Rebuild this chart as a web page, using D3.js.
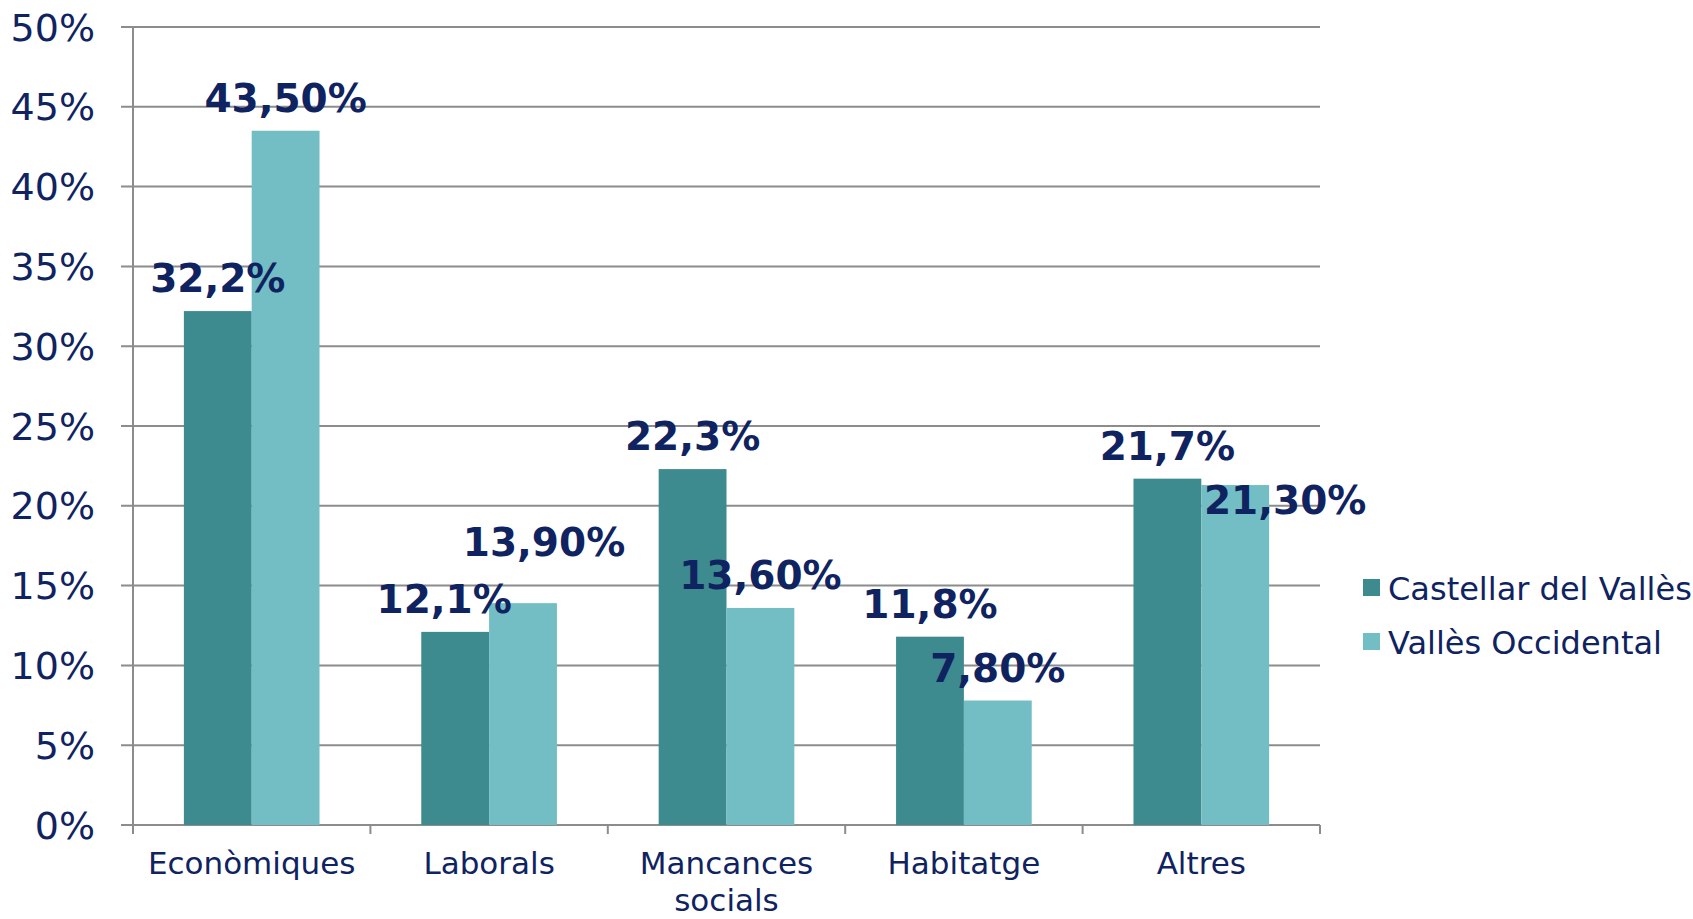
<!DOCTYPE html>
<html>
<head>
<meta charset="utf-8">
<script src="https://cdn.jsdelivr.net/npm/d3@7"></script>
<style>
  body { margin: 0; background: #fff; }
  svg { display: block; font-family: "DejaVu Sans", Verdana, sans-serif; }
</style>
</head>
<body>
<svg id="chart" width="1693" height="919"></svg>
<script>
// chart data
const categories = ["Econòmiques", "Laborals", "Mancances socials", "Habitatge", "Altres"];
const seriesNames = ["Castellar del Vallès", "Vallès Occidental"];
const castellar = [32.2, 12.1, 22.3, 11.8, 21.7];
const valles = [43.5, 13.9, 13.6, 7.8, 21.3];
const yTicks = [0, 5, 10, 15, 20, 25, 30, 35, 40, 45, 50];

// label nudges (the original had a few labels moved by hand)
const labelNudge = [
  [[0, 0], [0, 0]],
  [[-11, 0], [21, -28]],
  [[0, 0], [0, 0]],
  [[0, 0], [0, 0]],
  [[0, 0], [50, 48]]
];

const colors = ["#3d8a8f", "#72bec4"];
const textColor = "#0f2361";
const gridColor = "#8c8c8c";

const svg = d3.select("#chart");
const plotLeft = 133, plotRight = 1320, plotTop = 27, plotBottom = 825;

const x = d3.scaleBand().domain(categories).range([plotLeft, plotRight]);
const bw = x.bandwidth() / 3.5;
const xs = d3.scaleBand().domain(seriesNames).range([0, bw * 2]);
const y = d3.scaleLinear().domain([0, 50]).range([plotBottom, plotTop]);

// gridlines
svg.append("g")
  .selectAll("line")
  .data(yTicks)
  .enter()
  .append("line")
  .attr("x1", plotLeft - 12)
  .attr("x2", plotRight)
  .attr("y1", d => y(d))
  .attr("y2", d => y(d))
  .style("stroke", gridColor)
  .style("stroke-width", 2);

// y axis line
svg.append("line")
  .attr("x1", plotLeft).attr("x2", plotLeft)
  .attr("y1", plotTop).attr("y2", plotBottom)
  .style("stroke", gridColor)
  .style("stroke-width", 2);

// category ticks
const bounds = categories.map(c => x(c)).concat([plotRight]);
svg.append("g")
  .selectAll("line")
  .data(bounds)
  .enter()
  .append("line")
  .attr("x1", d => d).attr("x2", d => d)
  .attr("y1", plotBottom).attr("y2", plotBottom + 9)
  .style("stroke", gridColor)
  .style("stroke-width", 2);

// y tick labels
svg.append("g")
  .selectAll("text")
  .data(yTicks)
  .enter()
  .append("text")
  .attr("x", 95)
  .attr("y", d => y(d))
  .attr("dy", "0.36em")
  .attr("text-anchor", "end")
  .style("font-size", "38px")
  .style("fill", textColor)
  .text(d => d + "%");

// bars
const rows = categories.map((c, i) => ({ cat: c, i: i, vals: [castellar[i], valles[i]] }));
const groups = svg.append("g")
  .selectAll("g")
  .data(rows)
  .enter()
  .append("g")
  .attr("transform", d => "translate(" + (x(d.cat) + x.bandwidth() / 2 - bw) + ",0)");

groups.selectAll("rect")
  .data(d => d.vals.map((v, s) => ({ v: v, s: s })))
  .enter()
  .append("rect")
  .attr("x", d => xs(seriesNames[d.s]))
  .attr("width", xs.bandwidth())
  .attr("y", d => y(d.v))
  .attr("height", d => plotBottom - y(d.v))
  .style("fill", d => colors[d.s]);

// data labels
function fmt(v, s) {
  return (s === 0 ? v.toFixed(1) : v.toFixed(2)).replace(".", ",") + "%";
}
groups.selectAll("text")
  .data(d => d.vals.map((v, s) => ({ v: v, s: s, i: d.i })))
  .enter()
  .append("text")
  .attr("x", d => xs(seriesNames[d.s]) + xs.bandwidth() / 2 + labelNudge[d.i][d.s][0])
  .attr("y", d => y(d.v) - 19 + labelNudge[d.i][d.s][1])
  .attr("text-anchor", "middle")
  .style("font-size", "39px")
  .style("font-weight", "bold")
  .style("fill", textColor)
  .text(d => fmt(d.v, d.s));

// category labels
const catLabels = svg.append("g")
  .selectAll("text")
  .data(categories)
  .enter()
  .append("text")
  .attr("x", d => x(d) + x.bandwidth() / 2)
  .attr("y", 874)
  .attr("text-anchor", "middle")
  .style("font-size", "31px")
  .style("fill", textColor);
catLabels.each(function(d) {
  const words = d === "Mancances socials" ? d.split(" ") : [d];
  const t = d3.select(this);
  words.forEach((w, k) => {
    t.append("tspan")
      .attr("x", x(d) + x.bandwidth() / 2)
      .attr("dy", k === 0 ? 0 : 37)
      .text(w);
  });
});

// legend
const legend = svg.append("g")
  .selectAll("g")
  .data(seriesNames)
  .enter()
  .append("g")
  .attr("transform", (d, i) => "translate(1363," + (588 + i * 54) + ")");
legend.append("rect")
  .attr("x", 0).attr("y", -9)
  .attr("width", 17).attr("height", 17)
  .style("fill", (d, i) => colors[i]);
legend.append("text")
  .attr("x", 25)
  .attr("dy", "0.36em")
  .style("font-size", "32px")
  .style("fill", textColor)
  .text(d => d);
</script>
</body>
</html>
